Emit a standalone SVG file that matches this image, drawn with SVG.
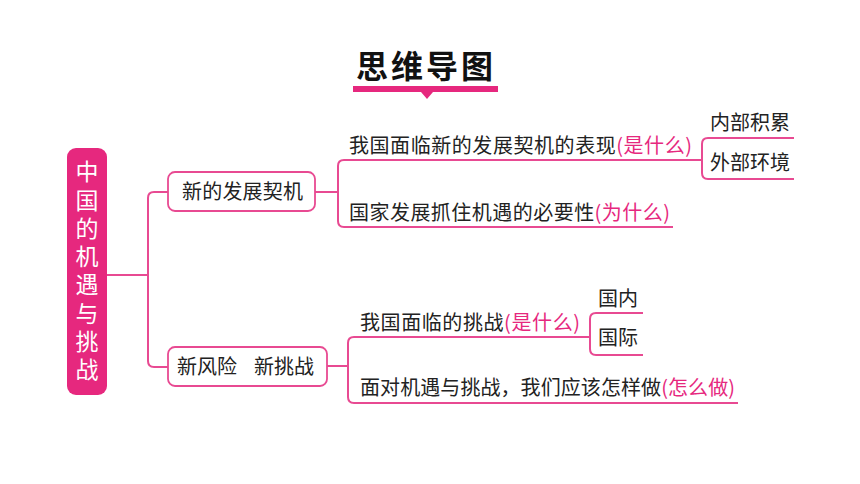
<svg xmlns="http://www.w3.org/2000/svg" width="860" height="484" viewBox="0 0 860 484">
<style>
.t{font-family:"Noto Sans CJK SC","Noto Sans",sans-serif;font-size:20px;fill:#222}
.p{fill:#E6287E}
.ln{fill:none;stroke:#E84A92;stroke-width:2;stroke-linejoin:round}
.box{fill:#fff;stroke:#E84A92;stroke-width:1.8}
</style>
<rect width="860" height="484" fill="#fff"/>
<g id="title">
<text x="426" y="78" text-anchor="middle" font-family="'Noto Sans CJK SC','Noto Sans',sans-serif" font-size="32" font-weight="bold" fill="#111" letter-spacing="3">思维导图</text>
<rect x="353" y="86" width="145" height="6" fill="#E6287E"/>
<polygon points="421,92 433,92 427,99" fill="#E6287E"/>
</g>
<g id="connectors">
<path class="ln" d="M107,275 H148"/>
<path class="ln" d="M168,192 H154 Q148,192 148,198 V361 Q148,367 154,367 H168"/>
<path class="ln" d="M315,192 H338"/>
<path class="ln" d="M702,160 H344 Q338,160 338,166 V221 Q338,227 344,227 H673"/>
<path class="ln" d="M794,138 H708 Q702,138 702,144 V173 Q702,179 708,179 H794"/>
<path class="ln" d="M327,366 H348"/>
<path class="ln" d="M590,337 H354 Q348,337 348,343 V397 Q348,403 354,403 H738"/>
<path class="ln" d="M643,313 H596 Q590,313 590,319 V349 Q590,355 596,355 H643"/>
</g>
<g id="root">
<rect x="67" y="148" width="40" height="247" rx="9" fill="#E6287E"/>
<text x="87" y="160" writing-mode="tb" style="writing-mode:vertical-rl" letter-spacing="5.3" font-family="'Noto Sans CJK SC','Noto Sans',sans-serif" font-size="23" fill="#fff">中国的机遇与挑战</text>
</g>
<g id="node-opportunity">
<rect class="box" x="168" y="172" width="147" height="39" rx="7"/>
<text class="t" x="182" y="199" textLength="121">新的发展契机</text>
</g>
<g id="node-risk">
<rect class="box" x="168" y="347" width="159" height="39" rx="7"/>
<text class="t" x="177" y="374">新风险</text>
<text class="t" x="254" y="374">新挑战</text>
</g>
<g id="opp-what">
<text class="t" x="349" y="153" textLength="343">我国面临新的发展契机的表现<tspan class="p">(是什么)</tspan></text>
</g>
<g id="opp-why">
<text class="t" x="349" y="220" textLength="321">国家发展抓住机遇的必要性<tspan class="p">(为什么)</tspan></text>
</g>
<g id="opp-internal"><text class="t" x="710" y="130" textLength="80">内部积累</text></g>
<g id="opp-external"><text class="t" x="710" y="170" textLength="80">外部环境</text></g>
<g id="risk-what">
<text class="t" x="360" y="330" textLength="220">我国面临的挑战<tspan class="p">(是什么)</tspan></text>
</g>
<g id="risk-how">
<text class="t" x="360" y="395" textLength="375">面对机遇与挑战，我们应该怎样做<tspan class="p">(怎么做)</tspan></text>
</g>
<g id="risk-domestic"><text class="t" x="598" y="306">国内</text></g>
<g id="risk-intl"><text class="t" x="598" y="345">国际</text></g>
</svg>
